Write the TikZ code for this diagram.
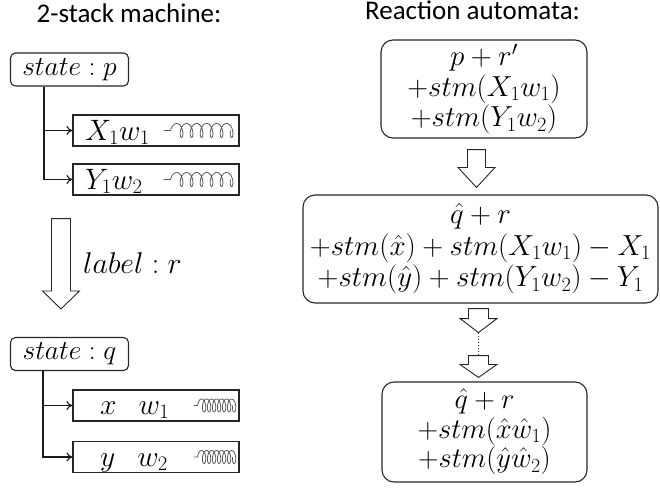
\RequirePackage{fix-cm}
\documentclass[tikz,border=0pt]{standalone}
\usepackage[no-math]{fontspec}
\newfontfamily\titlefont{Carlito}
\usetikzlibrary{arrows.meta,calc}

\tikzset{
  frame/.style={draw=black!85, line width=1.1pt, inner sep=0pt},
  statebox/.style={frame, rounded corners=5pt, minimum width=118pt, minimum height=33pt,
    font=\fontsize{27.5}{31}\selectfont},
  stackbox/.style={frame, minimum width=166pt, minimum height=31pt},
  reactbox/.style={frame, rounded corners=12pt, align=center},
  mathtxt/.style={font=\fontsize{29.5}{31}\selectfont, inner sep=0pt},
  heading/.style={font=\titlefont\fontsize{27}{30}\selectfont, inner sep=0pt, anchor=base},
  hollow/.style={draw=black!85, line width=0.9pt, fill=white, line join=miter},
  feed/.style={draw=black!90, line width=1.1pt, -{To[length=6pt,width=9pt]}},
  spring/.style={draw=black!65, line width=0.8pt, line join=round},
}

% hollow downward block arrow: start, tip, half shaft width, half head width, head length
\newcommand{\hollowdown}[5]{%
  \draw[hollow] let \p1=(#1), \p2=(#2) in
    (\x1-#3pt,\y1) -- (\x1+#3pt,\y1) -- (\x1+#3pt,\y2+#5pt) -- (\x1+#4pt,\y2+#5pt)
    -- (\x1,\y2) -- (\x1-#4pt,\y2+#5pt) -- (\x1-#3pt,\y2+#5pt) -- cycle;}

% coiled spring inside a stack cell:
% node, offset of coil start from its east side, turns, pitch, loop half width, loop half height, lead length
\newcommand{\coilat}[7]{%
  \begin{scope}[shift={($(#1.east)+(#2,0)$)}]
    \draw[spring] (-#7,0) -- (0,0) -- plot[domain=-90:{360*#3-90}, samples=240]
      ({(\x+90)/360*#4 + #5*sin(\x) + #5}, {-#6*cos(\x)});
  \end{scope}}

\begin{document}
\begin{tikzpicture}[x=1pt,y=-1pt]
\useasboundingbox (0,0) rectangle (660,487);

% headings
\node[heading] (h1) at (129,23) {2-stack machine:};
\node[heading] (h2) at (472.5,20) {Reaction automata:};

% ---- 2-stack machine, before the step ----
\node[statebox] (stP) at (69.5,69.5) {$state : p$};
\node[stackbox] (s1) at (156,130.5) {};
\node[stackbox] (s2) at (156,179.5) {};
\node[mathtxt, anchor=base west] (s1t) at (85,140) {$X_1w_1$};
\node[mathtxt, anchor=base west] (s2t) at (85,189) {$Y_1w_2$};
\coilat{s1}{-69}{6}{10}{3.5}{7}{7}
\coilat{s2}{-69}{6}{10}{3.5}{7}{7}
\coordinate (pv) at ($(stP.south west)+(34,0)$);
\draw[feed] (pv) |- (s1.west);
\draw[feed] (pv) |- (s2.west);

% ---- transition ----
\coordinate (ls) at ($(s2.south west)+(-11.5,23)$);
\node[statebox] (stQ) at (69.5,354) {$state : q$};
\coordinate (lt) at ($(ls |- stQ.north)+(0,-28)$);
\hollowdown{ls}{lt}{9.5}{18.5}{18}
\node[mathtxt, font=\fontsize{30}{32}\selectfont] (lab) at (132.5,263) {$label : r$};

% ---- 2-stack machine, after the step ----
\node[stackbox] (q1) at (156,405.5) {};
\node[stackbox] (q2) at (156,457) {};
\node[mathtxt, anchor=base west] (q1t) at (100,414.5) {$x$\hspace{22pt}$w_1$};
\node[mathtxt, anchor=base west] (q2t) at (100,466) {$y$\hspace{22pt}$w_2$};
\coilat{q1}{-42}{7}{5}{2.8}{6.5}{4}
\coilat{q2}{-42}{7}{5}{2.8}{6.5}{4}
\coordinate (qv) at ($(stQ.south west)+(33,0)$);
\draw[feed] (qv) |- (q1.west);
\draw[feed] (qv) |- (q2.west);

% ---- reaction automaton ----
\node[reactbox, minimum width=206pt, minimum height=98pt, font=\fontsize{29}{30.5}\selectfont]
  (b1) at (484,89)
  {$p+r'$\\ $+stm(X_1w_1)$\\ $+stm(Y_1w_2)$};
\node[reactbox, minimum width=355pt, minimum height=108pt, font=\fontsize{29}{31.5}\selectfont]
  (b2) at (480.5,249)
  {$\hat{q}+r$\\ $+stm(\hat{x})+stm(X_1w_1)-X_1$\\ $+stm(\hat{y})+stm(Y_1w_2)-Y_1$};
\node[reactbox, minimum width=205pt, minimum height=100pt, font=\fontsize{28.5}{29.5}\selectfont]
  (b3) at (484.5,432)
  {$\hat{q}+r$\\ $+stm(\hat{x}\hat{w}_1)$\\ $+stm(\hat{y}\hat{w}_2)$};

\coordinate (a1s) at ($(b1.south)+(-7.5,11)$);
\coordinate (a1t) at ($(a1s |- b2.north)+(0,-7)$);
\hollowdown{a1s}{a1t}{9}{18.5}{20}

\coordinate (a2s) at ($(b2.south)+(-2,5)$);
\coordinate (a2t) at ($(a2s)+(0,24)$);
\hollowdown{a2s}{a2t}{10}{18.5}{14}

\coordinate (a3s) at ($(a2t)+(0,23)$);
\coordinate (a3t) at ($(a3s |- b3.north)+(0,-4)$);
\draw[black!85, line width=1.1pt, dotted] (a2t) -- (a3s);
\hollowdown{a3s}{a3t}{10}{18.5}{13}
\end{tikzpicture}
\end{document}
